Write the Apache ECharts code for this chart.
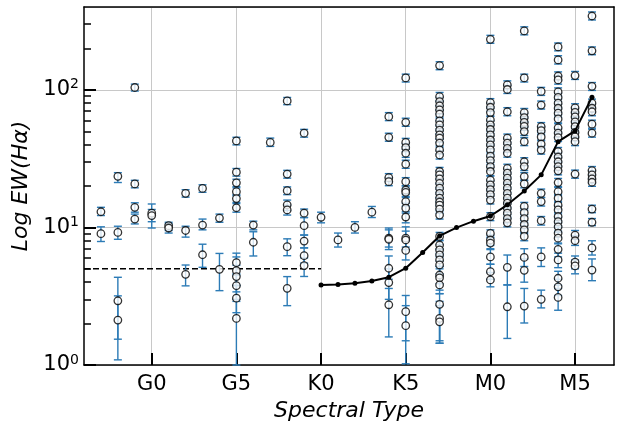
<!DOCTYPE html>
<html>
<head>
<meta charset="utf-8">
<script src="https://cdn.jsdelivr.net/npm/echarts@6/dist/echarts.min.js"></script>
<style>
html,body{margin:0;padding:0;background:#fff;}
#c{width:622px;height:421px;}
</style>
</head>
<body>
<div id="c"></div>
<script>
// ---- data ----
const spectralTicks = [0, 5, 10, 15, 20, 25];
const spectralLabels = ['G0', 'G5', 'K0', 'K5', 'M0', 'M5'];

// [spectral type index, EW(Halpha), lower error bound, upper error bound]
const starsF = [
  [-3,13.0,12.2,14.0],[-3,9.0,7.9,10.1],
  [-2,23.5,21.2,25.0],[-2,9.2,8.2,10.2],[-2,2.93,1.54,4.34],[-2,2.12,1.09,3.18],
  [-1,104,98,110],[-1,20.7,19.4,22.0],[-1,14.0,12.9,15.1],[-1,11.5,10.6,12.5]
];
const starsG = [
  [0,12.7,11.0,14.8],[0,12.2,9.9,13.5],
  [1,10.3,9.5,10.9],[1,9.9,9.1,10.6],
  [2,17.7,16.6,18.8],[2,9.5,8.5,10.2],[2,4.56,3.76,5.33],
  [3,19.2,18.0,20.4],[3,10.4,9.6,11.5],[3,6.33,5.13,7.55],
  [4,11.7,10.9,12.5],[4,4.96,3.47,6.47],
  [5,42.5,39.8,45.2],[5,25.2,23.6,26.8],[5,21.1,19.8,22.4],[5,18.2,17.0,19.4],[5,16.2,15.2,17.3],
  [5,13.9,12.9,14.9],[5,5.54,4.6,6.5],[5,4.85,3.8,6.1],[5,4.39,3.4,5.3],[5,3.77,3.0,4.5],
  [5,3.06,2.4,3.77],[5,2.18,1.0,2.9],
  [6,10.4,9.6,11.1],[6,7.8,6.2,9.3],
  [7,41.5,38.8,44.6],
  [8,83,78,88],[8,24.4,22.8,26.0],[8,18.5,17.3,19.7],[8,14.6,13.3,15.8],[8,13.4,12.3,14.5],
  [8,7.24,6.23,8.26],[8,3.61,2.7,4.39],
  [9,48.4,45.3,51.6],[9,12.7,11.8,13.6],[9,10.3,8.8,11.8],[9,7.96,7.1,8.8],[9,6.23,5.5,7.1],[9,5.28,4.4,6.0]
];
const starsK = [
  [10,11.85,10.8,12.9],[11,8.11,7.2,9.1],[12,10.0,9.1,11.0],[13,12.9,11.8,14.2],
  [14,63.8,59.7,68.3],[14,45.2,42.3,48.4],[14,23.0,21.5,24.6],[14,21.5,20.1,23.0],[14,8.35,7.2,9.6],
  [14,8.2,6.9,9.9],[14,5.05,4.2,6.2],[14,3.97,3.0,5.0],[14,2.74,1.6,3.6],
  [15,122,114,130],[15,58.1,54.3,62.2],[15,41.5,38.8,44.4],[15,38.0,35.5,40.7],[15,34.6,32.3,37.0],
  [15,28.8,26.9,30.8],[15,21.5,20.1,23.0],[15,18.7,17.5,20.0],[15,18.0,16.8,19.3],[15,15.4,14.3,16.5],
  [15,13.8,12.7,15.0],[15,11.9,10.8,13.0],[15,8.35,7.2,10.1],[15,8.1,6.9,9.4],[15,6.8,5.8,8.0],
  [15,2.44,1.5,3.2],[15,1.93,1.02,2.7],
  [17,150,140,160],[17,89.4,83.6,95.7],[17,82.2,76.9,88.0],[17,76.6,71.6,82.0],[17,71.4,66.8,76.4],
  [17,66.5,62.2,71.2],[17,59.4,55.5,63.6],[17,55.7,52.1,59.6],[17,51.0,47.7,54.6],[17,47.0,44.0,50.3],
  [17,44.6,41.7,47.7],[17,41.0,38.3,43.9],[17,36.6,34.2,39.2],[17,33.6,31.4,36.0],[17,25.5,23.8,27.3],
  [17,24.1,22.5,25.8],[17,22.5,21.0,24.1],[17,20.9,19.5,22.4],[17,19.3,18.0,20.7],[17,17.7,16.5,18.9],
  [17,16.3,15.2,17.4],[17,15.3,14.3,16.4],[17,14.5,13.6,15.5],[17,13.6,12.7,14.6],[17,12.3,11.5,13.2],
  [17,8.6,8.0,9.2],[17,7.45,6.9,8.1],[17,6.86,6.3,7.5],[17,6.32,5.7,7.0],[17,5.8,5.2,6.5],
  [17,5.34,4.6,6.1],[17,4.51,3.9,5.2],[17,4.3,3.5,5.0],[17,3.82,3.3,4.4],[17,2.76,1.44,3.3],
  [17,2.18,1.5,2.9],[17,2.06,1.44,2.7]
];
const starsM = [
  [20,233,218,249],[20,80.7,75.5,86.3],[20,74.7,69.9,79.9],[20,68.4,64.0,73.2],[20,60.4,56.5,64.6],
  [20,55.7,52.1,59.6],[20,51.5,48.2,55.1],[20,47.0,44.0,50.3],[20,43.2,40.4,46.2],[20,39.8,37.2,42.6],
  [20,36.6,34.2,39.2],[20,33.0,30.9,35.3],[20,30.6,28.6,32.7],[20,27.7,25.9,29.6],[20,25.5,23.8,27.3],
  [20,22.1,20.7,23.6],[20,20.4,19.1,21.8],[20,18.8,17.6,20.1],[20,17.3,16.2,18.5],[20,15.8,14.8,16.9],
  [20,12.0,11.2,12.8],[20,9.05,8.5,9.6],[20,8.1,7.4,8.8],[20,7.7,7.0,8.4],[20,6.1,5.4,6.9],
  [20,4.77,4.2,5.4],[20,4.15,3.7,4.7],
  [21,108.6,101.6,116.2],[21,100.6,94.1,107.6],[21,69.3,64.8,74.2],[21,44.6,41.7,47.7],[21,41.0,38.3,43.9],
  [21,37.6,35.2,40.2],[21,34.6,32.4,37.0],[21,26.9,25.2,28.8],[21,24.8,23.2,26.5],[21,22.8,21.3,24.4],
  [21,21.0,19.6,22.5],[21,19.3,18.0,20.7],[21,17.7,16.5,18.9],[21,16.3,15.2,17.4],[21,15.0,14.0,16.1],
  [21,13.8,12.9,14.8],[21,12.7,11.9,13.6],[21,11.6,10.8,12.4],[21,10.8,10.1,11.6],[21,5.13,3.82,6.3],
  [21,2.65,1.56,3.82],
  [22,268,251,287],[22,122,114,130],[22,68.4,64.0,73.2],[22,62.9,58.8,67.3],[22,58.0,54.2,62.1],
  [22,54.3,50.8,58.1],[22,49.7,46.5,53.2],[22,42.0,39.3,44.9],[22,30.0,28.1,32.1],[22,27.7,25.9,29.6],
  [22,23.4,21.9,25.0],[22,20.7,19.4,22.1],[22,14.2,13.3,15.2],[22,12.8,12.0,13.7],[22,11.6,10.8,12.4],
  [22,10.5,9.8,11.2],[22,9.6,9.0,10.3],[22,8.6,8.0,9.2],[22,6.05,5.2,7.0],[22,4.88,4.0,5.9],
  [22,2.68,2.02,3.6],
  [23,97.4,91.1,104.2],[23,77.5,72.5,82.9],[23,54.0,50.5,57.8],[23,50.5,47.2,54.0],[23,45.5,42.6,48.7],
  [23,40.4,37.8,43.2],[23,36.5,34.1,39.1],[23,17.7,16.5,19.0],[23,15.4,14.3,16.5],[23,11.2,10.4,12.0],
  [23,6.1,5.2,7.1],[23,3.0,2.6,3.5],
  [24,205,192,219],[24,165,154,177],[24,126,118,135],[24,118,110,126],[24,96.5,90.3,103.3],
  [24,88.0,82.3,94.2],[24,80.0,74.8,85.6],[24,73.5,68.7,78.6],[24,67.7,63.3,72.4],[24,61.5,57.5,65.8],
  [24,53.0,49.6,56.7],[24,48.5,45.4,51.9],[24,45.0,42.1,48.2],[24,35.6,33.3,38.1],[24,32.5,30.4,34.8],
  [24,30.0,28.1,32.1],[24,27.7,25.9,29.6],[24,25.8,24.1,27.6],[24,21.2,19.8,22.7],[24,18.2,17.0,19.5],
  [24,16.3,15.2,17.4],[24,14.5,13.6,15.5],[24,13.4,12.5,14.3],[24,12.0,11.2,12.8],[24,11.0,10.3,11.8],
  [24,10.1,9.4,10.8],[24,9.1,8.5,10.0],[24,8.35,7.6,9.2],[24,6.93,6.1,7.7],[24,5.8,5.1,6.5],
  [24,4.27,3.8,4.8],[24,3.7,3.2,4.2],[24,3.1,2.5,3.6],
  [25,127,119,136],[25,74.0,69.2,79.2],[25,68.5,64.1,73.3],[25,63.5,59.4,67.9],[25,58.5,54.7,62.6],
  [25,54.0,50.5,57.8],[25,49.0,45.8,52.4],[25,45.5,42.6,48.7],[25,42.0,39.3,44.9],[25,24.4,22.8,26.1],
  [25,8.8,8.2,9.5],[25,8.0,7.4,8.7],[25,5.6,5.0,6.2],[25,5.25,4.6,5.8],
  [26,344,322,368],[26,192,180,205],[26,106,99,113],[26,80.0,74.8,85.6],[26,73.5,68.7,78.6],
  [26,69.3,64.8,74.2],[26,56.3,52.7,60.2],[26,48.4,45.3,51.8],[26,25.9,24.2,27.7],[26,24.1,22.5,25.8],
  [26,22.5,21.0,24.1],[26,21.3,19.9,22.8],[26,13.6,12.8,14.5],[26,10.9,10.3,11.6],[26,7.1,6.3,8.0],
  [26,4.9,4.1,5.9]
];

// running mean curve
const meanSpt = [10, 11, 12, 13, 14, 15, 16, 17, 18, 19, 20, 21, 22, 23, 24, 25, 26];
const meanEW  = [3.82, 3.84, 3.93, 4.08, 4.35, 5.05, 6.57, 8.67, 9.97, 11.1, 12.1, 14.6, 18.4, 24.1, 42, 50.3, 88.5];

// saturation (dashed) level
const dashSpt = [-4, 10];
const dashEW = [5, 5];

// log tick positions
const majorTickValues = [1, 10, 100];
const minorTickValues = [2,3,4,5,6,7,8,9,20,30,40,50,60,70,80,90,200,300];

// ---- build ----
const FONT = 'DejaVu Sans';
const allStars = starsF.concat(starsG, starsK, starsM);
const pointData = allStars.map(s => [s[0], s[1]]);
const errData = allStars.map(s => [s[0], s[2], s[3]]);
const meanData = meanSpt.map((x, i) => [x, meanEW[i]]);
const dashData = dashSpt.map((x, i) => [x, dashEW[i]]);
const minorVals = minorTickValues.map(v => Math.log10(v));
const majorVals = majorTickValues.map(v => Math.log10(v));

const chart = echarts.init(document.getElementById('c'), null, {renderer: 'canvas'});
const gridLine = {show: true, lineStyle: {color: '#c8c8c8', width: 1}};
const tickAxis = (vals, len, w) => ({
  type: 'value', min: 0, max: Math.log10(400), position: 'left',
  axisLine: {show: false, onZero: false},
  axisTick: {show: true, inside: true, length: len, lineStyle: {color: '#000', width: w}, customValues: vals},
  axisLabel: {show: false}, splitLine: {show: false}
});
chart.setOption({
  animation: false,
  backgroundColor: '#fff',
  grid: {left: 84, right: 8, top: 7, bottom: 56, containLabel: false, outerBoundsMode: 'none'},
  xAxis: [{
    type: 'value', min: -4, max: 27.3, position: 'bottom',
    name: 'Spectral Type', nameLocation: 'middle', nameGap: 29,
    nameTextStyle: {fontFamily: FONT, fontSize: 22, fontStyle: 'italic', color: '#000'},
    axisLine: {show: true, onZero: false, lineStyle: {color: '#000', width: 1.5}},
    axisTick: {show: true, inside: true, length: 12, lineStyle: {color: '#000', width: 2}, customValues: spectralTicks},
    axisLabel: {show: true, margin: 9, fontFamily: FONT, fontSize: 21, color: '#000', customValues: spectralTicks,
      formatter: v => { const i = spectralTicks.indexOf(Math.round(v)); return i >= 0 ? spectralLabels[i] : ''; }},
    splitLine: gridLine
  }, {
    type: 'value', min: -4, max: 27.3, position: 'top',
    axisLine: {show: true, onZero: false, lineStyle: {color: '#000', width: 1.5}},
    axisTick: {show: false}, axisLabel: {show: false}, splitLine: {show: false}
  }],
  yAxis: [{
    type: 'log', logBase: 10, min: 1, max: 400, position: 'left',
    name: 'Log EW(H\u03b1)', nameLocation: 'middle', nameGap: 47,
    nameTextStyle: {fontFamily: FONT, fontSize: 22, fontStyle: 'italic', color: '#000'},
    axisLine: {show: true, onZero: false, lineStyle: {color: '#000', width: 1.5}},
    axisTick: {show: false},
    axisLabel: {show: true, margin: 5, showMaxLabel: false,
      formatter: v => { const l = Math.log10(v); const e = Math.round(l); return Math.abs(l - e) < 1e-6 ? '{b|10}{s|' + e + '}' : ''; },
      rich: {
        b: {fontFamily: FONT, fontSize: 21, color: '#000', lineHeight: 24, verticalAlign: 'middle'},
        s: {fontFamily: FONT, fontSize: 14, color: '#000', verticalAlign: 'top'}
      }},
    splitLine: gridLine
  },
  tickAxis(minorVals, 7, 1.5),
  tickAxis(majorVals, 12, 2),
  {
    type: 'log', min: 1, max: 400, position: 'right',
    axisLine: {show: true, onZero: false, lineStyle: {color: '#000', width: 1.5}},
    axisTick: {show: false}, axisLabel: {show: false}, splitLine: {show: false}
  }],
  series: [{
    type: 'line', xAxisIndex: 0, yAxisIndex: 0, data: dashData, showSymbol: false, symbol: 'none',
    lineStyle: {color: '#000', width: 1.5, type: [6, 3]}, z: 2, silent: true
  }, {
    type: 'custom', xAxisIndex: 0, yAxisIndex: 0, data: errData, encode: {x: 0, y: [1, 2]}, z: 3, silent: true,
    renderItem: (params, api) => {
      const x = api.value(0);
      const pLo = api.coord([x, api.value(1)]);
      const pHi = api.coord([x, api.value(2)]);
      const w = 4;
      const st = {stroke: '#2c7bb6', lineWidth: 1.4, fill: null};
      return {type: 'group', children: [
        {type: 'line', shape: {x1: pLo[0], y1: pLo[1], x2: pHi[0], y2: pHi[1]}, style: st},
        {type: 'line', shape: {x1: pLo[0] - w, y1: pLo[1], x2: pLo[0] + w, y2: pLo[1]}, style: st},
        {type: 'line', shape: {x1: pHi[0] - w, y1: pHi[1], x2: pHi[0] + w, y2: pHi[1]}, style: st}
      ]};
    }
  }, {
    type: 'scatter', xAxisIndex: 0, yAxisIndex: 0, data: pointData, symbol: 'circle', symbolSize: 7.5,
    itemStyle: {color: '#fff', borderColor: '#000', borderWidth: 1.3}, z: 4, silent: true
  }, {
    type: 'line', xAxisIndex: 0, yAxisIndex: 0, data: meanData, symbol: 'circle', symbolSize: 5, showSymbol: true,
    lineStyle: {color: '#000', width: 2}, itemStyle: {color: '#000', borderWidth: 0}, z: 5, silent: true
  }]
});
</script>
</body>
</html>
